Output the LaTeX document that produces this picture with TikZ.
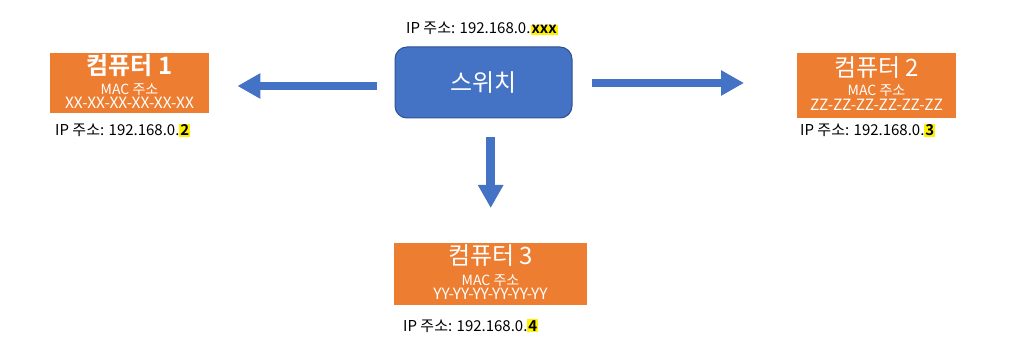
\documentclass[tikz,border=0pt]{standalone}
\usepackage{fontspec}
\setmainfont{Noto Sans CJK KR}[BoldFont={* Bold}]
\usetikzlibrary{arrows.meta}
\definecolor{pcorange}{HTML}{ED7D31}
\definecolor{swblue}{HTML}{4472C4}
\definecolor{swborder}{HTML}{2F528F}
\newcommand{\hl}[1]{{\setlength{\fboxsep}{1pt}\colorbox{yellow}{\textbf{#1}}}}
\tikzset{
  pcbox/.style={fill=pcorange, inner sep=0pt, anchor=north west},
  pctitle/.style={text=white, inner sep=0pt, anchor=base, font=\fontsize{24}{28}\selectfont},
  pcmac/.style={text=white, inner sep=0pt, anchor=base, font=\fontsize{14}{16}\selectfont},
  pcaddr/.style={text=white, inner sep=0pt, anchor=base, font=\fontsize{15.5}{18}\selectfont},
  iplabel/.style={font=\fontsize{15}{17}\selectfont, inner sep=0pt, anchor=base west},
  bigarrow/.style={draw=swblue, line width=8.5pt, -{Triangle[length=23pt,width=24pt]}}
}
\begin{document}
\begin{tikzpicture}[x=1pt,y=-1pt]
\useasboundingbox (0,0) rectangle (1020,358);
% computers
\node[pcbox, minimum width=159pt, minimum height=60pt] (pc1) at (50,53) {};
\node[pctitle, font=\fontsize{24}{28}\selectfont\bfseries] (pc1t) at (129.5,75) {컴퓨터 1};
\node[pcmac] (pc1m) at (129.5,95) {MAC 주소};
\node[pcaddr] (pc1a) at (129.5,109) {XX-XX-XX-XX-XX-XX};
\node[pcbox, minimum width=159pt, minimum height=65pt] (pc2) at (797,53) {};
\node[pctitle] (pc2t) at (876.5,77) {컴퓨터 2};
\node[pcmac] (pc2m) at (876.5,96) {MAC 주소};
\node[pcaddr] (pc2a) at (876.5,111) {ZZ-ZZ-ZZ-ZZ-ZZ-ZZ};
\node[pcbox, minimum width=193pt, minimum height=62pt] (pc3) at (394,243) {};
\node[pctitle] (pc3t) at (490.5,265) {컴퓨터 3};
\node[pcmac] (pc3m) at (490.5,285) {MAC 주소};
\node[pcaddr] (pc3a) at (490.5,299) {YY-YY-YY-YY-YY-YY};
% switch
\node[fill=swblue, draw=swborder, line width=1pt, rounded corners=12pt, minimum width=177pt, minimum height=71pt, text=white, font=\fontsize{24}{28}\selectfont, inner sep=0pt] (sw) at (483.5,82.5) {스위치};
% ip labels
\node[iplabel, anchor=base] (ipsw) at (482,34) {IP 주소: 192.168.0.\hl{xxx}};
\node[iplabel] (ip1) at (55,136) {IP 주소: 192.168.0.\hl{2}};
\node[iplabel] (ip2) at (800,136) {IP 주소: 192.168.0.\hl{3}};
\node[iplabel] (ip3) at (403,331) {IP 주소: 192.168.0.\hl{4}};
% arrows from switch to computers
\draw[bigarrow, shorten <=18pt, shorten >=28pt] ([yshift=-3.5pt]sw.west) -- ([yshift=-3.5pt]sw.west -| pc1.east);
\draw[bigarrow, shorten <=19pt, shorten >=53pt] ([yshift=-0.5pt]sw.east) -- ([yshift=-0.5pt]sw.east -| pc2.west);
\draw[bigarrow, shorten <=19pt, shorten >=35pt] (sw.south -| pc3.north) -- (pc3.north);
\end{tikzpicture}
\end{document}
